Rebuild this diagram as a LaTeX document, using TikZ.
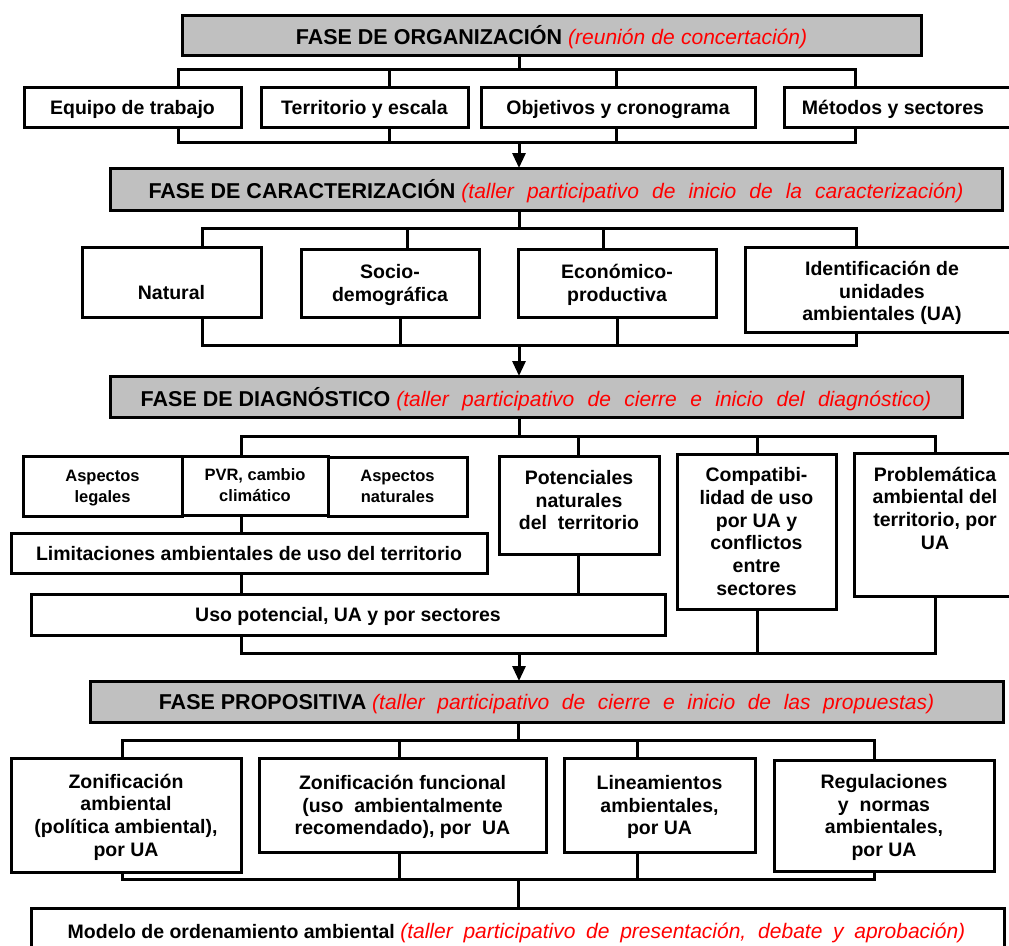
\documentclass[tikz,border=0pt]{standalone}
\usepackage{fontspec}
\setmainfont{Liberation Sans}
\usetikzlibrary{arrows.meta}
\definecolor{hdrgray}{RGB}{192,192,192}
\definecolor{redtx}{RGB}{255,0,0}
\newcommand\boxtxt{\fontsize{19.5}{22.7}\selectfont\bfseries}
\newcommand\smalltxt{\fontsize{16.5}{21}\selectfont\bfseries}
\newcommand\hdrtxt{\fontsize{21.5}{26}\selectfont\bfseries}
\newcommand\redpart[2]{{\fontsize{21}{26}\selectfont\mdseries\itshape\color{redtx}\makebox[#1pt][s]{#2}}}
\begin{document}
\begin{tikzpicture}[x=1pt,y=-1pt,
  box/.style={draw, line width=3pt, fill=white, inner sep=2pt, outer sep=0pt, align=center, font=\boxtxt, text depth=0pt},
  hdr/.style={box, fill=hdrgray, font=\hdrtxt},
  txt/.style={inner sep=0pt, align=center, font=\boxtxt, text depth=0pt},
  wh/.style 2 args={minimum width=#1pt, minimum height=#2pt},
  conn/.style={line width=3pt},
  arr/.style={conn, -{Triangle[length=15pt,width=13pt]}}]
\useasboundingbox (0,0) rectangle (1009,945);
\clip (0,0) rectangle (1009,945);

% ---------- FASE DE ORGANIZACION ----------
\node[hdr, wh={739}{40}] (hO) at (551.5,35) {FASE DE ORGANIZACIÓN \redpart{239}{(reunión de concertación)}};
\node[box, wh={217}{40}] (eq) at (132.5,107) {Equipo de trabajo};
\node[box, wh={207}{40}] (te) at (364.5,107) {Territorio y escala};
\node[box, wh={274}{40}] (ob) at (618,107) {Objetivos y cronograma};
\node[box, wh={230}{40}] (me) at (899,107) {};
\node[txt] (met) at (893,107) {Métodos y sectores};
\coordinate (o0) at (519,69);
\coordinate (o1) at (178,69); \coordinate (o2) at (389,69);
\coordinate (o3) at (616,69); \coordinate (o4) at (855,69);
\draw[conn] (o0 |- hO.south) -- (o0);
\draw[conn] (o1 |- eq.north) -- (o1) -- (o4) -- (o4 |- me.north);
\draw[conn] (o2) -- (o2 |- te.north);
\draw[conn] (o3) -- (o3 |- ob.north);
\coordinate (u0) at (519,142);
\coordinate (u1) at (178,142); \coordinate (u2) at (389,142);
\coordinate (u3) at (616,142); \coordinate (u4) at (855,142);
\draw[conn] (u1 |- eq.south) -- (u1) -- (u4) -- (u4 |- me.south);
\draw[conn] (u2 |- te.south) -- (u2);
\draw[conn] (u3 |- ob.south) -- (u3);

% ---------- FASE DE CARACTERIZACION ----------
\node[hdr, wh={892}{42}] (hC) at (556,189) {FASE DE CARACTERIZACIÓN \redpart{502}{(taller participativo de inicio de la caracterización)}};
\draw[arr] (u0) -- (u0 |- hC.north);
\node[box, wh={179}{70}] (nat) at (171.5,282) {};
\node[txt] (natt) at (171.5,292) {Natural};
\node[box, wh={178}{68}] (soc) at (390,283) {Socio-\\demográfica};
\node[box, wh={198}{68}] (eco) at (617,283) {Económico-\\productiva};
\node[box, wh={269}{85}] (ide) at (879.5,289.5) {};
\node[txt] (idet) at (882,291) {Identificación de\\unidades\\ambientales (UA)};
\coordinate (c0) at (519,228);
\coordinate (c1) at (202,228); \coordinate (c2) at (407,228);
\coordinate (c3) at (603,228); \coordinate (c4) at (856,228);
\draw[conn] (c0 |- hC.south) -- (c0);
\draw[conn] (c1 |- nat.north) -- (c1) -- (c4) -- (c4 |- ide.north);
\draw[conn] (c2) -- (c2 |- soc.north);
\draw[conn] (c3) -- (c3 |- eco.north);
\coordinate (d0) at (519,345);
\coordinate (d1) at (202,345); \coordinate (d2) at (400,345);
\coordinate (d3) at (617,345); \coordinate (d4) at (856,345);
\draw[conn] (d1 |- nat.south) -- (d1) -- (d4) -- (d4 |- ide.south);
\draw[conn] (d2 |- soc.south) -- (d2);
\draw[conn] (d3 |- eco.south) -- (d3);

% ---------- FASE DE DIAGNOSTICO ----------
\node[hdr, wh={852}{41}] (hD) at (536,396.5) {FASE DE DIAGNÓSTICO \redpart{535}{(taller participativo de cierre e inicio del diagnóstico)}};
\draw[arr] (d0) -- (d0 |- hD.north);
\node[box, wh={159}{60}, font=\smalltxt] (al) at (102.5,486) {Aspectos\\legales};
\node[box, wh={146}{59}, font=\smalltxt] (pvr) at (255,485.5) {PVR, cambio\\climático};
\node[box, wh={139}{59}, font=\smalltxt] (an) at (397.5,486.5) {Aspectos\\naturales};
\node[box, wh={476}{40}] (lim) at (249,553) {Limitaciones ambientales de uso del territorio};
\node[box, wh={634}{41}] (uso) at (348,614.5) {Uso potencial, UA y por sectores};
\node[box, wh={160}{98}] (pot) at (579,505) {};
\node[txt] (pott) at (579,500) {Potenciales\\naturales\\del\ \ territorio};
\node[box, wh={159}{155}] (com) at (756.5,531.5) {Compatibi-\\lidad de uso\\por UA y\\conflictos\\entre\\sectores};
\node[box, wh={160}{143}] (pro) at (934,524.5) {};
\node[txt] (prot) at (935,508) {Problemática\\ambiental del\\territorio, por\\UA};
\coordinate (e0) at (519,436);
\coordinate (e1) at (241,436); \coordinate (e2) at (578,436);
\coordinate (e3) at (757,436); \coordinate (e4) at (935,436);
\draw[conn] (e0 |- hD.south) -- (e0);
\draw[conn] (e1 |- pvr.north) -- (e1) -- (e4) -- (e4 |- pro.north);
\draw[conn] (e2) -- (e2 |- pot.north);
\draw[conn] (e3) -- (e3 |- com.north);
\draw[conn] (e1 |- pvr.south) -- (e1 |- lim.north);
\draw[conn] (e1 |- lim.south) -- (e1 |- uso.north);
\draw[conn] (e2 |- pot.south) -- (e2 |- uso.north);
\coordinate (f0) at (519,653);
\coordinate (f1) at (241,653); \coordinate (f3) at (757,653); \coordinate (f4) at (935,653);
\draw[conn] (f1 |- uso.south) -- (f1) -- (f4) -- (f4 |- pro.south);
\draw[conn] (f3 |- com.south) -- (f3);

% ---------- FASE PROPOSITIVA ----------
\node[hdr, wh={913}{41}] (hP) at (546.5,701.5) {FASE PROPOSITIVA \redpart{562}{(taller participativo de cierre e inicio de las propuestas)}};
\draw[arr] (f0) -- (f0 |- hP.north);
\node[box, wh={230}{114}] (za) at (126,815) {Zonificación\\ambiental\\(política ambiental),\\por UA};
\node[box, wh={287}{94}] (zf) at (402.5,805) {Zonificación funcional\\(uso\ \ ambientalmente\\recomendado), por\ \ UA};
\node[box, wh={191}{94}] (li) at (659.5,805) {Lineamientos\\ambientales,\\por UA};
\node[box, wh={220}{111}] (re) at (884,815.5) {Regulaciones\\y\ \ normas\\ambientales,\\por UA};
\coordinate (g0) at (518,740);
\coordinate (g1) at (122,740); \coordinate (g2) at (399,740);
\coordinate (g3) at (637,740); \coordinate (g4) at (874,740);
\draw[conn] (g0 |- hP.south) -- (g0);
\draw[conn] (g1 |- za.north) -- (g1) -- (g4) -- (g4 |- re.north);
\draw[conn] (g2) -- (g2 |- zf.north);
\draw[conn] (g3) -- (g3 |- li.north);
\coordinate (h0) at (518,879);
\coordinate (h1) at (122,879); \coordinate (h2) at (399,879);
\coordinate (h3) at (637,879); \coordinate (h4) at (874,879);
\draw[conn] (h1 |- za.south) -- (h1) -- (h4) -- (h4 |- re.south);
\draw[conn] (h2 |- zf.south) -- (h2);
\draw[conn] (h3 |- li.south) -- (h3);

% ---------- MODELO ----------
\node[box, wh={973}{52}] (mo) at (517.5,934) {};
\node[txt] (mot) at (516.5,931) {Modelo de ordenamiento ambiental \redpart{565}{(taller participativo de presentación, debate y aprobación)}};
\draw[conn] (h0) -- (h0 |- mo.north);
\end{tikzpicture}
\end{document}
